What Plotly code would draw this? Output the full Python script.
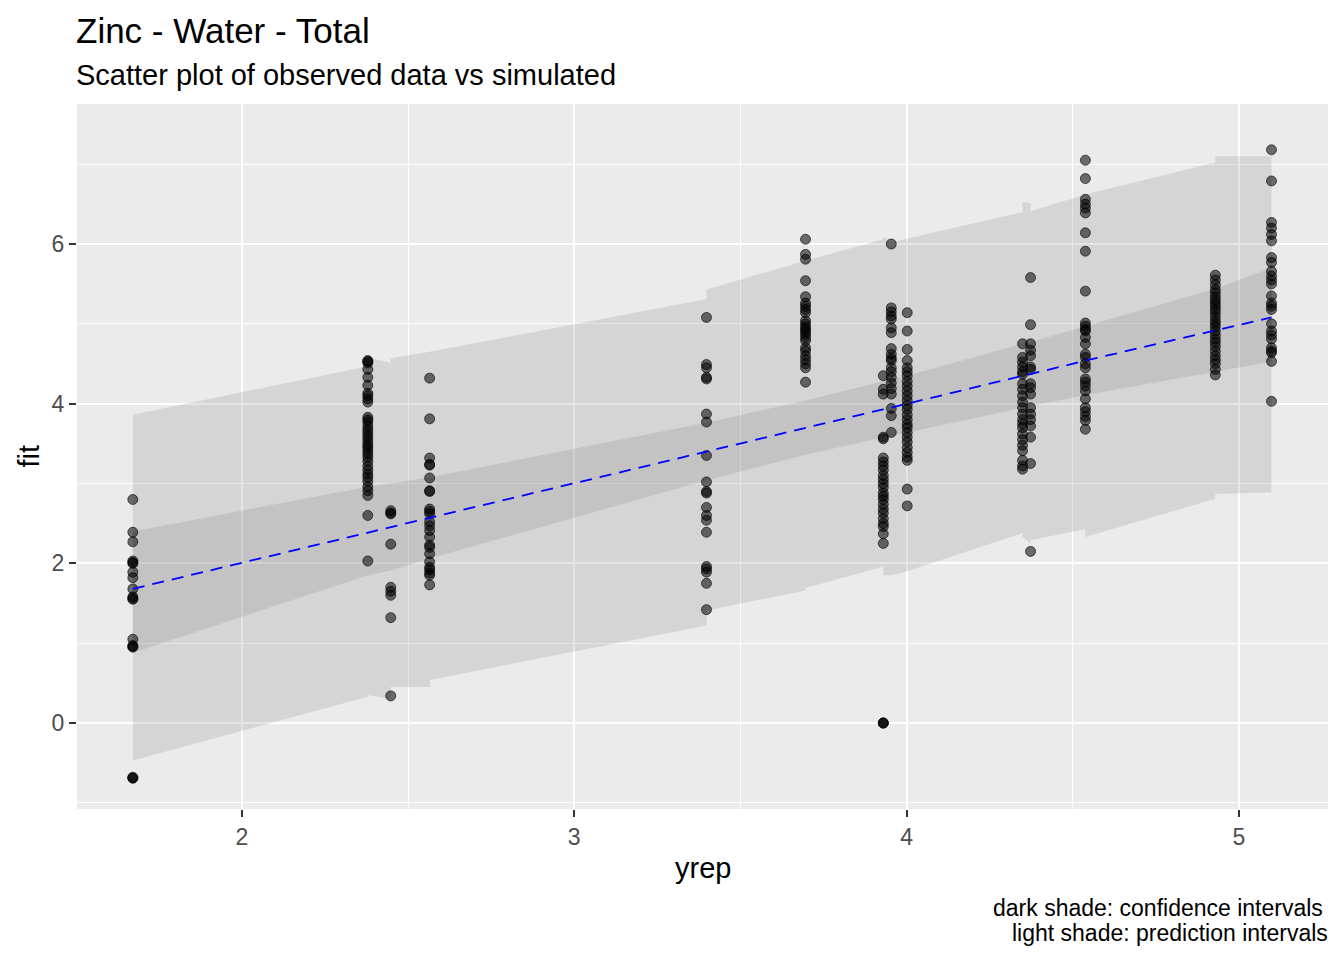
import plotly.graph_objects as go

# observed groups (yrep value) and the fit/ci at each of them
group_x = [1.672, 2.379, 2.448, 2.565, 3.398, 3.696, 3.930, 3.954, 4.002,
           4.349, 4.373, 4.538, 4.929, 5.098]
fit_y = [1.68, 2.38, 2.45, 2.57, 3.40, 3.70, 3.93, 3.95, 4.00,
         4.35, 4.37, 4.54, 4.92, 5.08]
conf_lo = [0.88, 1.85, 1.91, 2.06, 3.04, 3.36, 3.58, 3.60, 3.64,
           3.95, 3.97, 4.11, 4.40, 4.53]
conf_hi = [2.40, 2.96, 3.00, 3.08, 3.76, 4.04, 4.28, 4.30, 4.35,
           4.75, 4.77, 4.97, 5.44, 5.70]

# prediction ribbon (repeated x where the bounds jump)
pred_x = [1.672, 2.379, 2.379, 2.448, 2.448, 2.565, 2.565, 3.398, 3.398,
          3.696, 3.696, 3.930, 3.930, 3.954, 4.002, 4.349, 4.349, 4.373,
          4.373, 4.538, 4.538, 4.929, 4.929, 5.098]
pred_hi = [3.86, 4.47, 4.58, 4.51, 4.57, 4.65, 4.65, 5.31, 5.43,
           5.79, 5.79, 6.06, 6.09, 6.02, 6.07, 6.40, 6.53, 6.51,
           6.41, 6.62, 6.62, 7.02, 7.10, 7.10]
pred_lo = [-0.47, 0.33, 0.35, 0.30, 0.45, 0.45, 0.54, 1.22, 1.41,
           1.66, 1.69, 1.96, 1.85, 1.85, 1.90, 2.38, 2.33, 2.25,
           2.29, 2.43, 2.33, 2.81, 2.87, 2.89]

# observed fit values per group
obs_1672 = [2.80, 2.39, 2.27, 2.03, 2.01, 2.00, 1.89, 1.82, 1.68, 1.58, 1.56, 1.55,
            1.05, 0.97, 0.96, 0.95, -0.68, -0.69, -0.69]
obs_2379 = [4.54, 4.53, 4.51, 4.43, 4.33, 4.23, 4.13, 4.10, 4.06, 4.02, 3.83, 3.80,
            3.77, 3.72, 3.68, 3.64, 3.60, 3.56, 3.52, 3.48, 3.45, 3.41, 3.37, 3.33,
            3.28, 3.22, 3.17, 3.12, 3.08, 3.03, 2.96, 2.91, 2.85, 2.60, 2.03]
obs_2448 = [2.66, 2.63, 2.62, 2.24, 1.70, 1.65, 1.60, 1.32, 0.34]
obs_2565 = [4.32, 3.81, 3.32, 3.24, 3.23, 3.07, 2.91, 2.90, 2.68, 2.65, 2.62, 2.52,
            2.47, 2.41, 2.33, 2.23, 2.20, 2.12, 2.02, 1.95, 1.92, 1.88, 1.85, 1.73]
obs_3398 = [5.08, 4.49, 4.45, 4.33, 4.31, 3.87, 3.77, 3.35, 3.02, 2.90, 2.88, 2.70,
            2.60, 2.54, 2.39, 1.96, 1.93, 1.89, 1.75, 1.42]
obs_3696 = [6.06, 5.87, 5.81, 5.54, 5.34, 5.26, 5.22, 5.18, 5.14, 5.04, 5.00, 4.96,
            4.93, 4.90, 4.87, 4.83, 4.79, 4.70, 4.66, 4.60, 4.55, 4.50, 4.45, 4.27]
obs_3930 = [4.35, 4.18, 4.12, 3.58, 3.56, 3.32, 3.27, 3.22, 3.17, 3.10, 3.05, 3.00,
            2.95, 2.88, 2.84, 2.80, 2.74, 2.68, 2.63, 2.56, 2.50, 2.46, 2.37, 2.25,
            0.00, 0.00, 0.00]
obs_3954 = [6.00, 5.20, 5.15, 5.10, 5.06, 4.95, 4.89, 4.69, 4.62, 4.57, 4.54, 4.45,
            4.40, 4.33, 4.26, 4.19, 4.12, 3.94, 3.85, 3.64]
obs_4002 = [5.14, 4.91, 4.68, 4.54, 4.45, 4.40, 4.35, 4.28, 4.22, 4.16, 4.10, 4.04,
            3.98, 3.93, 3.86, 3.80, 3.74, 3.70, 3.64, 3.58, 3.52, 3.45, 3.39, 3.33,
            3.29, 2.93, 2.72]
obs_4349 = [4.75, 4.58, 4.52, 4.46, 4.40, 4.37, 4.25, 4.18, 4.10, 4.02, 3.95, 3.87,
            3.80, 3.75, 3.70, 3.62, 3.55, 3.48, 3.41, 3.29, 3.22, 3.18]
obs_4373 = [5.58, 4.99, 4.75, 4.67, 4.60, 4.46, 4.43, 4.25, 4.20, 4.12, 3.95, 3.87,
            3.80, 3.72, 3.58, 3.25, 2.15]
obs_4538 = [7.05, 6.82, 6.56, 6.50, 6.45, 6.39, 6.14, 5.91, 5.41, 5.01, 4.97, 4.93,
            4.91, 4.83, 4.75, 4.62, 4.58, 4.50, 4.45, 4.31, 4.27, 4.22, 4.16, 4.06,
            3.95, 3.90, 3.84, 3.79, 3.68]
obs_4929 = [5.61, 5.55, 5.49, 5.43, 5.39, 5.34, 5.30, 5.26, 5.22, 5.18, 5.14, 5.09,
            5.04, 5.00, 4.96, 4.91, 4.86, 4.81, 4.77, 4.72, 4.66, 4.60, 4.55, 4.50,
            4.43, 4.36]
obs_5098 = [7.18, 6.79, 6.27, 6.20, 6.12, 6.04, 5.83, 5.77, 5.66, 5.60, 5.55, 5.50,
            5.35, 5.26, 5.22, 5.18, 5.00, 4.91, 4.86, 4.81, 4.70, 4.66, 4.64, 4.53,
            4.03]

obs_groups = [obs_1672, obs_2379, obs_2448, obs_2565, obs_3398, obs_3696, obs_3930,
              obs_3954, obs_4002, obs_4349, obs_4373, obs_4538, obs_4929, obs_5098]

FONT = "Liberation Sans, Arial, sans-serif"
band_fill = "rgba(127,127,127,0.2)"

pts_x, pts_y = [], []
for gx, ys in zip(group_x, obs_groups):
    pts_x += [gx] * len(ys)
    pts_y += ys

fig = go.Figure()

# light shade: prediction intervals
fig.add_trace(go.Scatter(
    x=pred_x + pred_x[::-1],
    y=pred_hi + pred_lo[::-1],
    fill="toself", fillcolor=band_fill, mode="none",
    hoverinfo="skip", showlegend=False))

# dark shade: confidence intervals
fig.add_trace(go.Scatter(
    x=group_x + group_x[::-1],
    y=conf_hi + conf_lo[::-1],
    fill="toself", fillcolor=band_fill, mode="none",
    hoverinfo="skip", showlegend=False))

fig.add_trace(go.Scatter(
    x=pts_x, y=pts_y, mode="markers",
    marker=dict(size=10, color="rgba(0,0,0,0.55)",
                line=dict(width=1, color="rgba(0,0,0,0.6)")),
    showlegend=False))

fig.add_trace(go.Scatter(
    x=group_x, y=fit_y, mode="lines",
    line=dict(color="blue", width=1.8, dash="12px,8px"),
    showlegend=False))

axis_common = dict(
    showgrid=True, gridcolor="white", gridwidth=2,
    zeroline=False, showline=False,
    ticks="outside", ticklen=7, tickwidth=2, tickcolor="#333333",
    tickfont=dict(family=FONT, size=23, color="#4D4D4D"),
)

fig.update_xaxes(range=[1.504, 5.268], tickmode="linear", tick0=0, dtick=1,
                 minor=dict(dtick=0.5, tick0=0, showgrid=True, gridcolor="white",
                            gridwidth=1, ticks=""),
                 **axis_common)
fig.update_yaxes(range=[-1.077, 7.754], tickmode="linear", tick0=0, dtick=2,
                 minor=dict(dtick=1, tick0=0, showgrid=True, gridcolor="white",
                            gridwidth=1, ticks=""),
                 **axis_common)

# the page adds an 8px body margin, so the plot area is placed 8px up/left
ph = 705.0
pw = 1251.0
annots = [
    dict(text="Zinc - Water - Total", x=-3 / pw, y=1 + (104 - 30) / ph,
         xanchor="left", yanchor="middle", font=dict(size=35, color="black")),
    dict(text="Scatter plot of observed data vs simulated", x=-3 / pw,
         y=1 + (104 - 75) / ph,
         xanchor="left", yanchor="middle", font=dict(size=29, color="black")),
    dict(text="yrep", x=0.5, y=-(868 - 809) / ph,
         xanchor="center", yanchor="middle", font=dict(size=29, color="black")),
    dict(text="fit", x=(28 - 77) / pw, y=0.5, textangle=-90,
         xanchor="center", yanchor="middle", font=dict(size=29, color="black")),
    dict(text="dark shade: confidence intervals", x=1 - 3 / pw, y=-(908 - 809) / ph,
         xanchor="right", yanchor="middle", font=dict(size=23, color="black")),
    dict(text="light shade: prediction intervals", x=1 + 2 / pw, y=-(933 - 809) / ph,
         xanchor="right", yanchor="middle", font=dict(size=23, color="black")),
]
for a in annots:
    a.update(xref="paper", yref="paper", showarrow=False)
    a["font"]["family"] = FONT

fig.update_layout(
    width=1344, height=960,
    margin=dict(l=69, r=24, t=96, b=159),
    paper_bgcolor="white", plot_bgcolor="#EBEBEB",
    font=dict(family=FONT),
    annotations=annots,
    showlegend=False,
)

fig.write_html("out.html")
